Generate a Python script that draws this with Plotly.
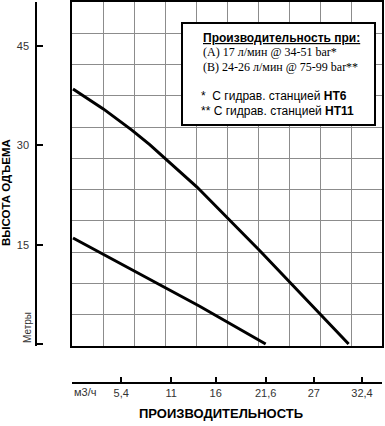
import plotly.graph_objects as go

# ---- data ----
flow_upper = [0, 1.7, 3.4, 6.6, 8.6, 10.5, 12.2, 13.9, 21.0, 30.9]
head_upper = [38.5, 37.0, 35.5, 32.3, 30.1, 27.8, 25.7, 23.7, 14.0, 0.0]
flow_lower = [0, 7.0, 14.2, 21.6]
head_lower = [16.0, 10.9, 5.7, 0.0]

flow_ticks = [0, 5.4, 11, 16, 21.6, 27, 32.4]
flow_ticktext = ["", "5,4", "11", "16", "21,6", "27", "32,4"]
head_ticks = [0, 15, 30, 45]
head_ticktext = ["", "15", "30", "45"]

legend_lines = [
    "<u><b>Производительность при:</b></u>",
    "(A) 17 л/мин @ 34-51 bar*",
    "(B) 24-26 л/мин @ 75-99 bar**",
    "*  С гидрав. станцией <b>HT6</b>",
    "** С гидрав. станцией <b>HT11</b>",
]

W, H = 385, 426
def px(x):
    return x / W
def py(y):
    return (H - y) / H

# scales (pixels per unit)
sx = 8.92
sy = 6.622
x0_px = 73   # pixel of flow 0
y0_px = 344  # pixel of head 0

main_x_range = [(72 - x0_px) / sx, (382 - x0_px) / sx]
main_y_range = [(y0_px - 346) / sy, (y0_px - 2) / sy]

fig = go.Figure()
for fx, hy in [(flow_upper, head_upper), (flow_lower, head_lower)]:
    fig.add_trace(go.Scatter(x=fx, y=hy, mode="lines",
                             line=dict(color="black", width=3),
                             xaxis="x", yaxis="y", showlegend=False,
                             hoverinfo="skip"))
# invisible traces to register the overlaid scale axes
fig.add_trace(go.Scatter(x=[], y=[], xaxis="x2", yaxis="y", showlegend=False))
fig.add_trace(go.Scatter(x=[], y=[], xaxis="x", yaxis="y2", showlegend=False))

grid_col = "#8c8c8c"
fig.update_layout(
    width=W, height=H,
    margin=dict(l=0, r=0, t=0, b=0),
    paper_bgcolor="white",
    plot_bgcolor="white",
    font=dict(family="Arial, Liberation Sans, sans-serif", color="#222"),
    xaxis=dict(domain=[px(72), px(382)], range=main_x_range,
               tickmode="linear",
               tick0=main_x_range[0], dtick=(main_x_range[1] - main_x_range[0]) / 10,
               showgrid=True, gridcolor=grid_col, gridwidth=1,
               showticklabels=False, ticks="", zeroline=False,
               showline=True, linecolor="black", linewidth=2, mirror=True,
               anchor="y", fixedrange=True),
    yaxis=dict(domain=[py(346), py(2)], range=main_y_range,
               tickmode="linear",
               tick0=main_y_range[0], dtick=(main_y_range[1] - main_y_range[0]) / 11,
               showgrid=True, gridcolor=grid_col, gridwidth=1,
               showticklabels=False, ticks="", zeroline=False,
               showline=True, linecolor="black", linewidth=2, mirror=True,
               anchor="x", fixedrange=True),
    xaxis2=dict(overlaying="x", range=main_x_range,
                anchor="free", position=py(383),
                tickmode="array", tickvals=flow_ticks, ticktext=flow_ticktext,
                ticks="inside", ticklen=5, tickwidth=1.5, tickcolor="black",
                showline=True, linecolor="black", linewidth=1.5,
                showgrid=False, zeroline=False,
                tickfont=dict(size=11, color="#333"), fixedrange=True),
    yaxis2=dict(overlaying="y", range=main_y_range,
                anchor="free", position=px(36),
                tickmode="array", tickvals=head_ticks, ticktext=head_ticktext,
                ticks="inside", ticklen=6, tickwidth=1.5, tickcolor="black",
                ticklabelstandoff=4,
                showline=True, linecolor="black", linewidth=1.5,
                showgrid=False, zeroline=False,
                tickfont=dict(size=11, color="#333"), fixedrange=True),
)

# legend box
fig.add_shape(type="rect", xref="paper", yref="paper",
              x0=px(182), x1=px(375), y0=py(125), y1=py(23),
              line=dict(color="black", width=2), fillcolor="white", layer="above")

line_y = [38, 52.5, 67, 96, 110.5]
line_x = [201, 201, 201, 199, 199]
line_font = ["Arial, Liberation Sans", "Liberation Serif, Times New Roman, serif",
             "Liberation Serif, Times New Roman, serif",
             "Arial, Liberation Sans", "Arial, Liberation Sans"]
for t, yy, xx, ff in zip(legend_lines, line_y, line_x, line_font):
    fig.add_annotation(text=t, xref="paper", yref="paper", x=px(xx), y=py(yy),
                       xanchor="left", yanchor="middle", showarrow=False,
                       font=dict(family=ff, size=12, color="black"))

# axis titles and unit labels
fig.add_annotation(text="<b>ВЫСОТА ОДЪЕМА</b>", xref="paper", yref="paper",
                   x=px(6), y=py(193), textangle=-90, showarrow=False,
                   xanchor="center", yanchor="middle",
                   font=dict(size=11.5, color="black"))
fig.add_annotation(text="Метры", xref="paper", yref="paper",
                   x=px(27), y=py(328), textangle=-90, showarrow=False,
                   xanchor="center", yanchor="middle",
                   font=dict(size=10, color="#333"))
fig.add_annotation(text="м3/ч", xref="paper", yref="paper",
                   x=px(72), y=py(392), showarrow=False,
                   xanchor="left", yanchor="middle",
                   font=dict(size=11, color="#333"))
fig.add_annotation(text="<b>ПРОИЗВОДИТЕЛЬНОСТЬ</b>", xref="paper", yref="paper",
                   x=px(221), y=py(413), showarrow=False,
                   xanchor="center", yanchor="middle",
                   font=dict(size=13, color="black"))

fig.write_html("out.html", config={"displayModeBar": False},
               post_script="document.body.style.margin='0px';document.body.style.padding='0px';")
